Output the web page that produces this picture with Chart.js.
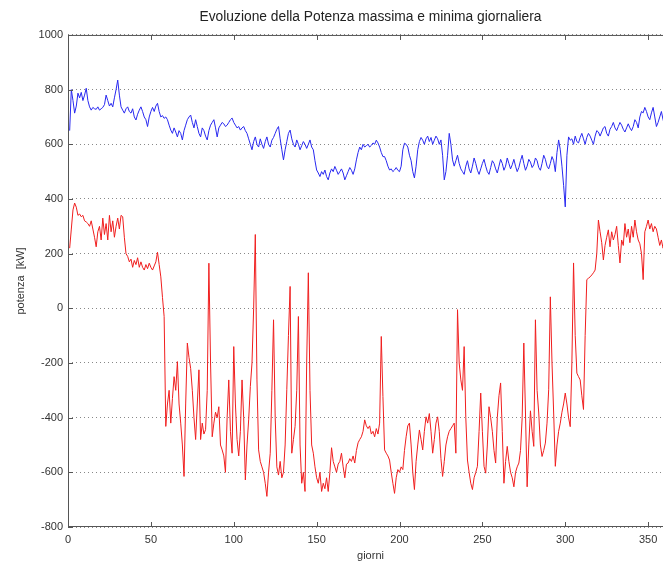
<!DOCTYPE html>
<html>
<head>
<meta charset="utf-8">
<script src="https://cdn.jsdelivr.net/npm/chart.js@4.4.1/dist/chart.umd.min.js"></script>
<style>
  html, body { margin: 0; padding: 0; background: #fff; overflow: hidden; }
  #wrap { width: 673px; height: 564px; }
</style>
</head>
<body>
<div id="wrap"><canvas id="c" width="673" height="564"></canvas></div>
<script>
// Daily maximum power (kW), days 1..365
const potMax = [
  650, 800, 760, 714, 740, 787, 770, 790, 760, 780,
  805, 760, 737, 725, 735, 730, 728, 737, 725, 730,
  735, 745, 780, 760, 740, 750, 737, 770, 800, 835,
  780, 737, 725, 714, 730, 737, 720, 714, 730, 700,
  689, 710, 725, 737, 720, 700, 690, 665, 700, 720,
  735, 720, 740, 750, 720, 700, 705, 695, 700, 690,
  670, 652, 640, 660, 645, 627, 650, 640, 616, 650,
  670, 690, 700, 707, 680, 660, 690, 665, 640, 627,
  660, 650, 630, 616, 650, 670, 680, 690, 660, 627,
  660, 670, 680, 675, 665, 670, 680, 690, 696, 680,
  670, 660, 665, 652, 660, 665, 650, 640, 620, 600,
  580, 610, 627, 600, 590, 620, 600, 585, 610, 627,
  600, 590, 615, 625, 640, 655, 665, 620, 580, 543,
  580, 610, 640, 652, 620, 600, 590, 616, 600, 580,
  595, 610, 600, 585, 600, 616, 590, 580, 540, 506,
  495, 482, 500, 490, 506, 482, 470, 495, 510, 500,
  519, 505, 490, 500, 510, 495, 470, 485, 500, 515,
  505, 490, 510, 543, 570, 590, 580, 600, 590, 595,
  600, 590, 596, 605, 600, 615, 605, 590, 570, 555,
  555, 540, 520, 506, 510, 500, 506, 515, 505, 500,
  520, 580, 604, 600, 590, 560, 540, 500, 477, 520,
  580, 610, 625, 615, 600, 620, 630, 610, 625, 600,
  615, 630, 620, 600, 616, 560, 470, 500, 560, 640,
  600, 543, 520, 540, 560, 530, 510, 500, 490, 520,
  540, 510, 495, 520, 550, 530, 505, 490, 510, 530,
  545, 520, 500, 490, 515, 540, 530, 510, 495, 520,
  545, 530, 505, 520, 550, 530, 510, 525, 545, 520,
  500, 515, 540, 560, 530, 505, 520, 545, 535, 515,
  525, 550, 540, 515, 505, 530, 560, 545, 520, 510,
  530, 555, 540, 500, 570, 616, 580, 520, 450, 371,
  560, 627, 615, 620, 600, 630, 610, 605, 625, 640,
  620, 600, 625, 640, 630, 615, 600, 630, 650, 645,
  630, 645, 660, 665, 640, 630, 655, 665, 680, 660,
  650, 665, 680, 670, 655, 645, 660, 675, 660, 650,
  665, 690, 680, 660, 700, 720, 715, 735, 720, 700,
  690, 715, 735, 700, 665, 680, 700, 720, 690, 670,
  690, 720, 700, 680, 660
];

// Daily minimum power (kW), days 1..365
const potMin = [
  220, 290, 360, 385, 370, 340, 345, 335, 340, 320,
  316, 310, 300, 320, 290, 260, 225, 280, 300, 250,
  330, 270, 310, 250, 340, 280, 320, 260, 300, 330,
  290, 340, 335, 260, 200, 190, 170, 180, 150, 175,
  160, 185, 150, 170, 150, 140, 160, 145, 165, 150,
  140, 155, 170, 205, 160, 115, 40, -30, -432, -350,
  -300, -420, -330, -250, -300, -195, -350, -420, -500, -615,
  -350, -127, -180, -220, -300, -400, -480, -350, -225, -480,
  -420, -460, -444, -300, 165, -200, -470, -420, -380, -400,
  -360, -500, -518, -540, -600, -400, -262, -450, -530, -140,
  -350, -480, -540, -450, -262, -400, -628, -500, -408, -286,
  -200, 0, 270, -262, -518, -560, -580, -600, -640, -688,
  -600, -530, -300, -42, -400, -580, -610, -560, -620, -600,
  -500, -298, -100, 80, -530, -480, -432, -300, -30, -500,
  -640, -600, -670, -200, 130, -300, -500, -530, -580, -620,
  -640, -600, -670, -640, -660, -620, -670, -600, -510, -560,
  -580, -600, -570, -560, -530, -580, -620, -570, -566, -550,
  -560, -540, -566, -520, -492, -480, -470, -450, -408, -430,
  -440, -430, -460, -450, -470, -440, -460, -420, -103, -323,
  -518, -530, -540, -555, -600, -640, -677, -620, -590, -600,
  -580, -590, -520, -470, -430, -420, -500, -600, -663, -560,
  -500, -445, -480, -518, -450, -397, -420, -385, -450, -530,
  -480, -420, -397, -450, -550, -615, -560, -500, -470, -450,
  -440, -430, -420, -530, -5, -200, -262, -300, -140, -400,
  -555, -600, -640, -663, -620, -600, -578, -450, -310, -450,
  -578, -603, -500, -360, -400, -450, -520, -566, -400, -320,
  -273, -450, -640, -560, -505, -560, -600, -620, -653, -600,
  -580, -566, -520, -400, -127, -383, -653, -500, -375, -450,
  -505, -42, -300, -383, -500, -542, -520, -493, -420, -298,
  42, -200, -383, -578, -500, -450, -420, -380, -350, -310,
  -350, -400, -433, -200, 166, -100, -237, -250, -262, -320,
  -370, -100, 105, 110, 115, 122, 130, 140, 200, 323,
  280, 240, 177, 230, 260, 287, 225, 280, 250, 270,
  300, 230, 166, 250, 230, 310, 260, 290, 240, 300,
  260, 323, 280, 250, 236, 200, 105, 280, 300, 323,
  290, 310, 280, 300, 290, 260, 230, 250, 220, 240,
  260, 230, 250, 240, 230
];

const days = potMax.map((_, i) => i + 1);
const xTicks = [0, 50, 100, 150, 200, 250, 300, 350];
const yTicks = [-800, -600, -400, -200, 0, 200, 400, 600, 800, 1000];

const FONT = "'Liberation Sans', Arial, sans-serif";

// Axes box with inward tick marks on all four sides
const boxPlugin = {
  id: 'axesBox',
  afterDatasetsDraw(chart) {
    const { ctx, chartArea: a, scales } = chart;
    const len = 5;
    ctx.save();
    ctx.strokeStyle = '#555';
    ctx.lineWidth = 1;
    ctx.strokeRect(a.left + 0.5, a.top + 0.5, a.right - a.left - 1, a.bottom - a.top - 1);
    ctx.beginPath();
    xTicks.forEach(v => {
      const x = Math.round(scales.x.getPixelForValue(v)) + 0.5;
      ctx.moveTo(x, a.bottom); ctx.lineTo(x, a.bottom - len);
      ctx.moveTo(x, a.top); ctx.lineTo(x, a.top + len);
    });
    yTicks.forEach(v => {
      const y = Math.round(scales.y.getPixelForValue(v)) + 0.5;
      ctx.moveTo(a.left, y); ctx.lineTo(a.left + len, y);
      ctx.moveTo(a.right, y); ctx.lineTo(a.right - len, y);
    });
    ctx.stroke();
    ctx.restore();
  }
};

new Chart(document.getElementById('c'), {
  type: 'line',
  data: {
    datasets: [
      {
        label: 'Potenza massima',
        data: potMax.map((v, i) => ({ x: days[i], y: v })),
        borderColor: 'rgb(40,40,240)',
        borderWidth: 1,
        pointRadius: 0,
        tension: 0
      },
      {
        label: 'Potenza minima',
        data: potMin.map((v, i) => ({ x: days[i], y: v })),
        borderColor: 'rgb(240,30,30)',
        borderWidth: 1,
        pointRadius: 0,
        tension: 0
      }
    ]
  },
  options: {
    responsive: false,
    animation: false,
    events: [],
    layout: { padding: 0 },
    plugins: {
      legend: { display: false },
      tooltip: { enabled: false },
      title: {
        display: true,
        fullSize: false,
        text: 'Evoluzione della Potenza massima e minima giornaliera',
        color: '#222',
        font: { family: FONT, size: 13.8, weight: 'normal' },
        padding: { top: 8.9, bottom: 9.5 }
      }
    },
    scales: {
      x: {
        type: 'linear',
        min: 0,
        max: 365,
        afterBuildTicks: s => { s.ticks = xTicks.map(v => ({ value: v })); },
        afterFit: s => { s.height = 37; },
        grid: { display: false, drawTicks: false },
        border: { display: false },
        ticks: {
          color: '#333',
          font: { family: FONT, size: 11 },
          padding: 6,
          maxRotation: 0,
          autoSkip: false,
          callback: v => String(v)
        },
        title: {
          display: true,
          text: 'giorni',
          color: '#333',
          font: { family: FONT, size: 11 },
          padding: { top: 0, bottom: 1 }
        }
      },
      y: {
        type: 'linear',
        min: -800,
        max: 1000,
        afterBuildTicks: s => { s.ticks = yTicks.map(v => ({ value: v })); },
        afterFit: s => { s.width = 68; },
        grid: { display: true, color: '#888', lineWidth: 1, drawTicks: false },
        border: { display: false, dash: [1, 3] },
        ticks: {
          color: '#333',
          font: { family: FONT, size: 11 },
          padding: 5,
          autoSkip: false,
          callback: v => String(v)
        },
        title: {
          display: true,
          text: 'potenza  [kW]',
          color: '#333',
          font: { family: FONT, size: 11 },
          padding: { top: 14, bottom: 0 }
        }
      }
    }
  },
  plugins: [boxPlugin]
});
</script>
</body>
</html>
